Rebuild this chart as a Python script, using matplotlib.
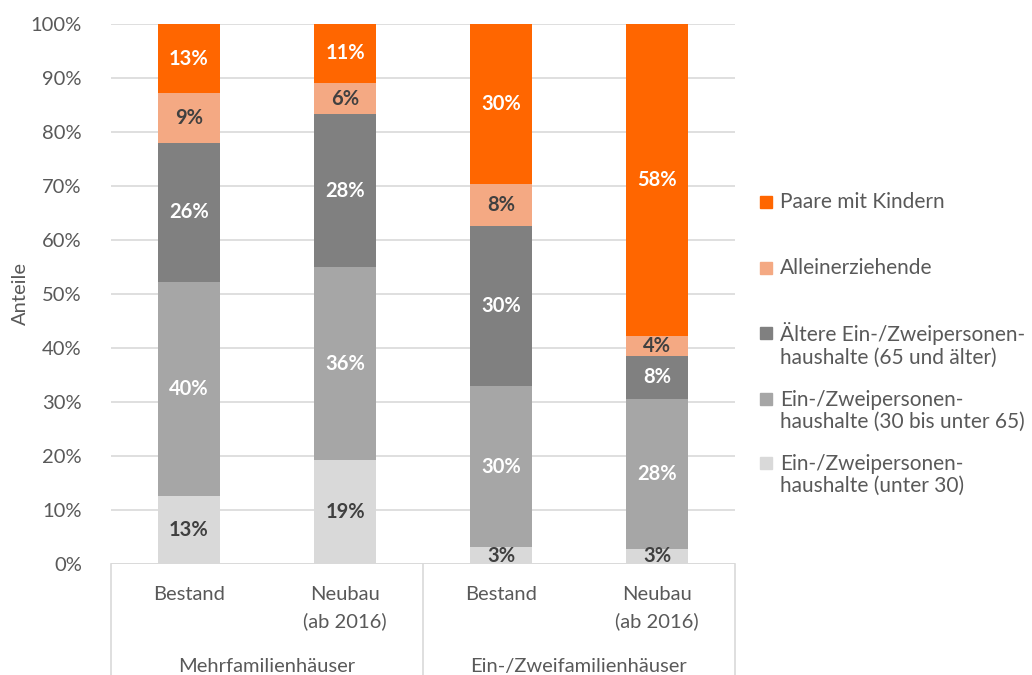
import matplotlib.pyplot as plt
from matplotlib.patches import Rectangle

plt.rcParams['font.family'] = ['Lato', 'DejaVu Sans']

# data (shares in %, bottom to top)
bars = ["Bestand", "Neubau\n(ab 2016)", "Bestand", "Neubau\n(ab 2016)"]
groups = ["Mehrfamilienhäuser", "Ein-/Zweifamilienhäuser"]
series = ["Ein-/Zweipersonen-\nhaushalte (unter 30)",
          "Ein-/Zweipersonen-\nhaushalte (30 bis unter 65)",
          "Ältere Ein-/Zweipersonen-\nhaushalte (65 und älter)",
          "Alleinerziehende",
          "Paare mit Kindern"]
unter30 = [12.6, 19.2, 3.1, 2.8]
mitte = [39.7, 35.8, 29.8, 27.8]
aeltere = [25.7, 28.3, 29.7, 7.9]
allein = [9.2, 5.8, 7.7, 3.7]
paare = [12.8, 10.9, 29.7, 57.8]

colors = ["#D9D9D9", "#A6A6A6", "#808080", "#F4A983", "#FF6600"]
txt_colors = ["#404040", "white", "white", "#404040", "white"]

W, H = 1032, 675
fig = plt.figure(figsize=(W / 100, H / 100), dpi=100)
ax = fig.add_axes([111 / W, (H - 564) / H, 624 / W, 540 / H])

x = list(range(len(bars)))
bottom = [0] * len(bars)
for vals, c, tc in zip([unter30, mitte, aeltere, allein, paare], colors, txt_colors):
    ax.bar(x, vals, width=0.4, bottom=bottom, color=c, zorder=2)
    for i, v in enumerate(vals):
        ax.text(i, bottom[i] + v / 2, f"{v:.0f}%", ha="center", va="center",
                color=tc, fontsize=14.5, fontweight="bold", zorder=3)
    bottom = [b + v for b, v in zip(bottom, vals)]

ax.set_xlim(-0.5, 3.5)
ax.set_ylim(0, 100)
ax.set_yticks(range(0, 101, 10))
ax.set_yticklabels([f"{t}%" for t in range(0, 101, 10)])
ax.yaxis.grid(True, color="#D9D9D9", lw=1.2, zorder=0)
ax.axhline(0, color="#D9D9D9", lw=1.2, zorder=1)
for s in ax.spines.values():
    s.set_visible(False)
ax.tick_params(axis="y", length=0, pad=21, labelsize=14.5, labelcolor="#595959")
fig.text(20 / W, 1 - 294 / H, "Anteile", rotation=90, ha="center", va="center",
         fontsize=14.5, color="#595959")

# category axis with group labels
ax.set_xticks(x)
ax.set_xticklabels(bars, fontsize=14.5, color="#595959", linespacing=1.62, va="top")
ax.tick_params(axis="x", length=0, pad=16)
tr = ax.get_xaxis_transform()
for sep in [-0.5, 1.5, 3.5]:
    ax.plot([sep, sep], [0, -0.21], color="#D9D9D9", lw=1.2, transform=tr, clip_on=False)
for g, name in enumerate(groups):
    ax.text(2 * g + 0.5, -0.19, name, transform=tr, ha="center", va="center",
            fontsize=14.5, color="#595959")

# legend (top to bottom)
leg_y = [202, 268, 345, 411, 475]
for name, c, yy in zip(series[::-1], colors[::-1], leg_y):
    nlines = name.count("\n") + 1
    top = yy - (nlines - 1) * 12
    fig.patches.append(Rectangle((760 / W, 1 - (top + 6) / H), 12 / W, 12 / H,
                                 transform=fig.transFigure, color=c))
    fig.text(780 / W, 1 - yy / H, name, ha="left", va="center", fontsize=15,
             color="#595959", linespacing=1.15)

fig.savefig("out.png", dpi=100)
